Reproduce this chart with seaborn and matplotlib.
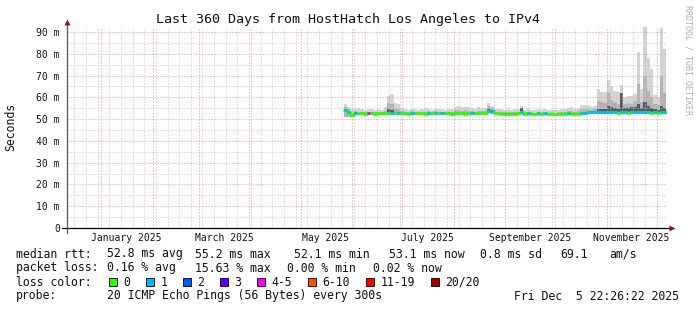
import matplotlib
matplotlib.use("Agg")
import matplotlib.pyplot as plt
import matplotlib.dates as mdates
from matplotlib.patches import Rectangle
from matplotlib.ticker import MultipleLocator, FuncFormatter
import seaborn as sns
from datetime import datetime, timedelta

# ---------------- data (2-day bins starting 2025-05-27) ----------------
bin_start = datetime(2025, 5, 27)
bin_days = 2

median_ms = [
    54.0, 53.4, 51.8, 52.9, 52.6, 52.6, 52.5, 52.6, 52.6, 52.5,
    52.6, 52.6, 52.6, 52.7, 52.9, 52.6, 52.8, 52.6, 52.6, 52.5,
    52.8, 52.6, 52.6, 52.6, 52.5, 52.8, 52.6, 52.8, 52.6, 52.8,
    52.6, 52.6, 52.5, 52.6, 52.6, 52.6, 52.5, 52.6, 52.9, 52.6,
    52.6, 52.6, 52.7, 53.8, 53.5, 52.6, 52.6, 52.5, 52.5, 52.5,
    52.5, 52.5, 52.6, 53.2, 52.4, 52.8, 52.4, 52.3, 52.8, 52.3,
    52.7, 52.3, 52.3, 52.2, 52.3, 52.3, 52.4, 52.8, 52.4, 52.4,
    52.4, 52.8, 53.0, 53.1, 53.2, 53.2, 53.2, 53.2, 53.3, 53.2,
    53.2, 53.3, 52.9, 53.3, 53.2, 52.9, 53.2, 53.3, 53.3, 53.4,
    53.2, 53.3, 52.9, 53.2, 53.0, 53.2, 53.1,
]

# index into loss_colors
loss_bucket = [
    1, 1, 0, 1, 0, 0, 0, 4, 0, 0,
    0, 0, 0, 0, 1, 0, 1, 0, 0, 0,
    1, 0, 0, 0, 0, 1, 0, 1, 0, 1,
    0, 0, 0, 0, 0, 0, 0, 0, 1, 0,
    0, 0, 0, 1, 1, 0, 0, 0, 0, 0,
    0, 0, 0, 1, 0, 1, 0, 0, 1, 0,
    1, 0, 0, 0, 0, 0, 0, 1, 0, 0,
    0, 1, 1, 1, 1, 1, 1, 1, 1, 1,
    1, 1, 0, 1, 1, 0, 1, 1, 1, 1,
    1, 1, 0, 1, 0, 1, 1,
]

smoke_low = [
    51.0, 51.2, 51.0, 52.0, 52.0, 52.0, 51.9, 52.0, 52.0, 51.9,
    52.0, 52.0, 52.0, 52.0, 52.2, 52.0, 52.1, 52.0, 52.0, 51.9,
    52.1, 52.0, 52.0, 52.0, 51.9, 52.1, 52.0, 52.1, 52.0, 52.1,
    52.0, 52.0, 51.9, 52.0, 52.0, 52.0, 51.9, 52.0, 52.2, 52.0,
    52.0, 52.0, 52.1, 52.6, 52.5, 52.0, 52.0, 51.9, 51.9, 51.9,
    51.9, 51.9, 52.0, 52.4, 51.8, 52.1, 51.8, 51.7, 52.1, 51.7,
    52.0, 51.7, 51.7, 51.6, 51.7, 51.7, 51.8, 52.1, 51.8, 51.8,
    51.8, 52.1, 52.3, 52.4, 52.5, 52.5, 52.5, 52.5, 52.6, 52.5,
    52.5, 52.6, 52.3, 52.6, 52.5, 52.3, 52.5, 52.6, 52.6, 52.7,
    52.5, 52.6, 52.3, 52.5, 52.4, 52.5, 52.4,
]

smoke_max = [
    57.0, 55.5, 54.5, 54.8, 55.0, 54.6, 54.3, 54.8, 54.5, 54.4,
    54.6, 54.3, 55.5, 60.7, 61.5, 57.5, 57.0, 55.0, 54.5, 54.4,
    54.8, 54.5, 54.3, 54.6, 55.0, 54.7, 54.4, 54.8, 54.5, 54.6,
    54.3, 54.5, 54.8, 55.6, 55.8, 55.4, 55.7, 55.5, 55.2, 54.8,
    55.4, 55.0, 55.3, 57.5, 56.0, 54.8, 54.5, 54.6, 54.3, 54.5,
    54.4, 54.7, 54.5, 55.8, 54.4, 54.6, 54.3, 54.2, 54.6, 54.2,
    54.5, 54.2, 54.3, 54.1, 54.3, 54.5, 54.8, 55.2, 55.4, 54.8,
    55.0, 56.5, 56.3, 56.0, 55.5, 56.2, 64.0, 62.6, 62.5, 68.0,
    65.0, 63.0, 62.6, 65.7, 60.3, 60.5, 60.6, 61.5, 81.0, 64.0,
    92.4, 78.0, 73.0, 61.0, 60.0, 92.0, 82.0,
]

smoke_mid = [
    55.5, 54.5, 53.0, 53.6, 53.4, 53.3, 53.2, 53.4, 53.3, 53.2,
    53.3, 53.2, 53.8, 57.5, 57.0, 55.0, 54.5, 53.6, 53.3, 53.2,
    53.5, 53.3, 53.2, 53.3, 53.4, 53.5, 53.2, 53.5, 53.3, 53.4,
    53.2, 53.3, 53.4, 54.0, 54.2, 53.9, 54.0, 53.9, 53.8, 53.4,
    53.7, 53.5, 53.6, 56.0, 55.0, 53.4, 53.3, 53.3, 53.1, 53.2,
    53.2, 53.3, 53.3, 54.5, 53.1, 53.4, 53.1, 53.0, 53.4, 53.0,
    53.3, 53.0, 53.1, 52.9, 53.1, 53.2, 53.4, 53.7, 53.8, 53.4,
    53.5, 54.8, 54.6, 54.5, 54.4, 54.8, 58.5, 58.0, 57.5, 62.0,
    59.0, 58.0, 57.0, 60.0, 57.0, 57.5, 57.0, 58.5, 66.0, 58.0,
    70.0, 63.0, 60.0, 57.0, 56.5, 70.0, 62.0,
]

smoke_dark = [
    54.5, 53.9, 52.2, 53.1, 52.8, 52.8, 52.7, 52.8, 52.8, 52.7,
    52.8, 52.8, 52.9, 54.5, 54.0, 53.0, 53.1, 52.8, 52.8, 52.7,
    53.0, 52.8, 52.8, 52.8, 52.7, 53.0, 52.8, 53.0, 52.8, 53.0,
    52.8, 52.8, 52.7, 52.9, 53.0, 52.9, 52.8, 52.9, 53.1, 52.8,
    52.9, 52.8, 52.9, 54.5, 54.0, 52.8, 52.8, 52.7, 52.7, 52.7,
    52.7, 52.7, 52.8, 55.0, 52.6, 53.0, 52.6, 52.5, 53.0, 52.5,
    52.9, 52.5, 52.5, 52.4, 52.5, 52.5, 52.6, 53.0, 52.6, 52.6,
    52.6, 53.1, 53.3, 53.5, 53.6, 53.7, 54.8, 54.8, 54.6, 56.0,
    55.5, 55.0, 54.5, 62.0, 55.0, 55.0, 55.5, 55.5, 57.0, 55.0,
    58.0, 56.0, 55.0, 54.5, 54.2, 56.0, 55.0,
]

loss_labels = ["0", "1", "2", "3", "4-5", "6-10", "11-19", "20/20"]
loss_colors = ["#26ff00", "#00b8ff", "#0059ff", "#5e00ff",
               "#ff00ff", "#ff5500", "#ff0000", "#a10000"]

month_labels = ["January 2025", "March 2025", "May 2025",
                "July 2025", "September 2025", "November 2025"]
month_label_dates = [datetime(2025, 1, 16), datetime(2025, 3, 16), datetime(2025, 5, 16),
                     datetime(2025, 7, 16), datetime(2025, 9, 16), datetime(2025, 11, 16)]

title = "Last 360 Days from HostHatch Los Angeles to IPv4"
stats_rtt = ["median rtt:", "52.8 ms avg", "55.2 ms max", "52.1 ms min",
             "53.1 ms now", "0.8 ms sd", "69.1", "am/s"]
stats_loss = ["packet loss:", "0.16 % avg", "15.63 % max", "0.00 % min", "0.02 % now"]
probe_text = ["probe:", "20 ICMP Echo Pings (56 Bytes) every 300s", "Fri Dec  5 22:26:22 2025"]

# ---------------- figure ----------------
sns.set_theme(style="white")
plt.rcParams["font.family"] = ["DejaVu Sans Mono"]

W, H = 697, 310
fig = plt.figure(figsize=(W / 100, H / 100), dpi=100)
fig.patch.set_facecolor("white")
ax = fig.add_axes([67 / W, 82 / H, 600 / W, 201 / H])
ax.set_facecolor("white")

n = len(median_ms)
edges = [bin_start + timedelta(days=bin_days * i) for i in range(n + 1)]
ex = mdates.date2num(edges)

def ext(v):
    return list(v) + [v[-1]]

ax.fill_between(ex, ext(smoke_low), ext(smoke_max), step="post",
                color="#d4d4d4", lw=0, zorder=1)
ax.fill_between(ex, ext(smoke_low), ext(smoke_mid), step="post",
                color="#b4b4b4", lw=0, zorder=1.1)
dark_low = [m - 0.3 for m in median_ms]
ax.fill_between(ex, ext(dark_low), ext(smoke_dark), step="post",
                color="#5a5a5a", lw=0, zorder=1.2)

# median line (base in loss-0 colour, then overlay other loss buckets)
sns.lineplot(x=ex, y=ext(median_ms), drawstyle="steps-post", color=loss_colors[0],
             lw=1.9, ax=ax, estimator=None, sort=False, zorder=3)
for i, b in enumerate(loss_bucket):
    if b != 0:
        ax.hlines(median_ms[i], ex[i], ex[i + 1], color=loss_colors[b], lw=1.9, zorder=3.1)

# axes ranges
x0 = datetime(2024, 12, 11, 13, 26)
x1 = x0 + timedelta(days=600 / 1.6632)
ax.set_xlim(mdates.date2num(x0), mdates.date2num(x1))
ax.set_ylim(0, 92.3)

# grid
ax.xaxis.set_major_locator(mdates.MonthLocator())
ax.xaxis.set_minor_locator(mdates.WeekdayLocator(byweekday=mdates.MO))
ax.yaxis.set_major_locator(MultipleLocator(10))
ax.yaxis.set_minor_locator(MultipleLocator(5))
ax.set_axisbelow(False)
ax.grid(which="minor", color="#c4c4c4", lw=0.72, ls=(0, (1, 2)), zorder=2.4)
ax.grid(which="major", color="#ee8c8c", lw=0.72, ls=(0, (1, 2)), zorder=2.5)

ax.set_xticklabels([])
ax.tick_params(axis="x", which="major", length=2.2, width=0.7, color="#e05050",
               direction="out", labelbottom=False)
ax.tick_params(axis="x", which="minor", length=1.4, width=0.6, color="#999999",
               direction="out")
ax.yaxis.set_major_formatter(FuncFormatter(lambda v, p: "0" if v == 0 else f"{int(round(v))} m"))
ax.tick_params(axis="y", which="major", length=2.2, width=0.7, color="#777777",
               direction="out", pad=3.0, labelsize=7, labelcolor="#111111")
ax.tick_params(axis="y", which="minor", length=0)
for s in ax.spines.values():
    s.set_visible(False)
ax.set_xlabel("")
ax.set_ylabel("")

# axis lines with arrows
ax.plot([-5 / 600, 1 + 3 / 600], [0, 0], transform=ax.transAxes, color="black",
        lw=0.9, clip_on=False, zorder=4)
ax.plot([1 + 5 / 600], [0], marker=">", ms=4.2, color="#8b1a1a",
        transform=ax.transAxes, clip_on=False, zorder=4, mec="none")
ax.plot([0, 0], [-5 / 201, 1 + 2 / 201], transform=ax.transAxes, color="#555555",
        lw=0.9, clip_on=False, zorder=4)
ax.plot([0], [1 + 5 / 201], marker="^", ms=4.2, color="#8b1a1a",
        transform=ax.transAxes, clip_on=False, zorder=4, mec="none")

# month labels
for lab, d in zip(month_labels, month_label_dates):
    ax.text(mdates.date2num(d), -10 / 201, lab, transform=ax.get_xaxis_transform(),
            ha="center", va="center", fontsize=7, color="#111111")

def fx(px):
    return px / W

def fy(py):
    return 1 - py / H

fig.text(fx(348), fy(19), title, ha="center", va="center", fontsize=9.6, color="#111111")
fig.text(fx(11), fy(127), "Seconds", rotation=90, ha="center", va="center",
         fontsize=8.3, color="#111111")
fig.text(fx(688), fy(60), "RRDTOOL / TOBI OETIKER", rotation=270, ha="center",
         va="center", fontsize=6, color="#b0b0b0")

fs = 8.3
rtt_x = [16, 107.3, 194.7, 294, 388.9, 480.2, 560.4, 609]
for t, x in zip(stats_rtt, rtt_x):
    fig.text(fx(x), fy(254), t, ha="left", va="center", fontsize=fs, color="#111111")
loss_x = [16, 107.3, 194.7, 287.3, 373.3]
for t, x in zip(stats_loss, loss_x):
    fig.text(fx(x), fy(268), t, ha="left", va="center", fontsize=fs, color="#111111")

fig.text(fx(16), fy(282), "loss color:", ha="left", va="center", fontsize=fs, color="#111111")
box_x = [109, 146, 183, 220, 257, 308, 366, 431]
for lab, col, bx in zip(loss_labels, loss_colors, box_x):
    fig.patches.append(Rectangle((fx(bx), fy(286)), 8 / W, 8 / H, transform=fig.transFigure,
                                 facecolor=col, edgecolor="black", lw=0.6, figure=fig))
    fig.text(fx(bx + 14.5), fy(282), lab, ha="left", va="center", fontsize=fs, color="#111111")

probe_x = [16, 107.3, 514.4]
for t, x in zip(probe_text, probe_x):
    fig.text(fx(x), fy(296), t, ha="left", va="center", fontsize=fs, color="#111111")

fig.savefig("out.png", dpi=100, facecolor="white")
